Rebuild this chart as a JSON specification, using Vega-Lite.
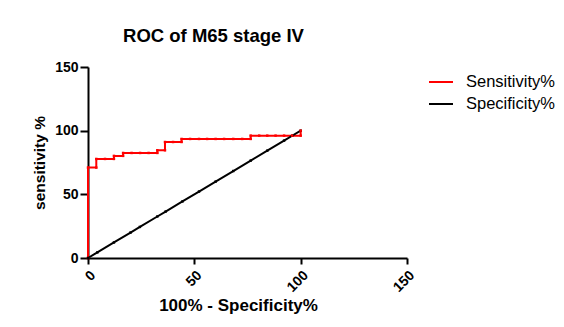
{
  "$schema": "https://vega.github.io/schema/vega-lite/v6.json",
  "width": 319,
  "height": 191,
  "autosize": {"type": "none"},
  "padding": {"left": 88, "top": 67, "right": 157, "bottom": 69},
  "background": "white",
  "title": {
    "text": "ROC of M65 stage IV",
    "font": "Liberation Sans",
    "fontSize": 18.5,
    "fontWeight": "bold",
    "color": "black",
    "anchor": "middle",
    "dx": -34,
    "offset": 15
  },
  "data": {
    "values": [
      {"series": "Sensitivity%", "o": 1, "x": 0, "y": 0},
      {"series": "Sensitivity%", "o": 2, "x": 0, "y": 71},
      {"series": "Sensitivity%", "o": 3, "x": 3.9, "y": 71},
      {"series": "Sensitivity%", "o": 4, "x": 3.9, "y": 77.8},
      {"series": "Sensitivity%", "o": 5, "x": 8, "y": 77.8},
      {"series": "Sensitivity%", "o": 6, "x": 12.2, "y": 77.8},
      {"series": "Sensitivity%", "o": 7, "x": 12.2, "y": 80.2},
      {"series": "Sensitivity%", "o": 8, "x": 16.5, "y": 80.2},
      {"series": "Sensitivity%", "o": 9, "x": 16.5, "y": 82.5},
      {"series": "Sensitivity%", "o": 10, "x": 20.5, "y": 82.5},
      {"series": "Sensitivity%", "o": 11, "x": 24.5, "y": 82.5},
      {"series": "Sensitivity%", "o": 12, "x": 28.5, "y": 82.5},
      {"series": "Sensitivity%", "o": 13, "x": 32.6, "y": 82.5},
      {"series": "Sensitivity%", "o": 14, "x": 32.6, "y": 84.6},
      {"series": "Sensitivity%", "o": 15, "x": 36.2, "y": 84.6},
      {"series": "Sensitivity%", "o": 16, "x": 36.2, "y": 91.1},
      {"series": "Sensitivity%", "o": 17, "x": 40, "y": 91.1},
      {"series": "Sensitivity%", "o": 18, "x": 44, "y": 91.1},
      {"series": "Sensitivity%", "o": 19, "x": 44, "y": 93.5},
      {"series": "Sensitivity%", "o": 20, "x": 48, "y": 93.5},
      {"series": "Sensitivity%", "o": 21, "x": 52.2, "y": 93.5},
      {"series": "Sensitivity%", "o": 22, "x": 56, "y": 93.5},
      {"series": "Sensitivity%", "o": 23, "x": 60, "y": 93.5},
      {"series": "Sensitivity%", "o": 24, "x": 64, "y": 93.5},
      {"series": "Sensitivity%", "o": 25, "x": 68.3, "y": 93.5},
      {"series": "Sensitivity%", "o": 26, "x": 72.5, "y": 93.5},
      {"series": "Sensitivity%", "o": 27, "x": 76.5, "y": 93.5},
      {"series": "Sensitivity%", "o": 28, "x": 76.5, "y": 96.1},
      {"series": "Sensitivity%", "o": 29, "x": 80.5, "y": 96.1},
      {"series": "Sensitivity%", "o": 30, "x": 84.3, "y": 96.1},
      {"series": "Sensitivity%", "o": 31, "x": 88.2, "y": 96.1},
      {"series": "Sensitivity%", "o": 32, "x": 92.2, "y": 96.1},
      {"series": "Sensitivity%", "o": 33, "x": 96, "y": 96.1},
      {"series": "Sensitivity%", "o": 34, "x": 100, "y": 96.1},
      {"series": "Sensitivity%", "o": 35, "x": 100, "y": 100},
      {"series": "Specificity%", "o": 1, "x": 0, "y": 0},
      {"series": "Specificity%", "o": 2, "x": 4.4, "y": 4.4},
      {"series": "Specificity%", "o": 3, "x": 12.2, "y": 12.2},
      {"series": "Specificity%", "o": 4, "x": 20, "y": 20},
      {"series": "Specificity%", "o": 5, "x": 24.4, "y": 24.4},
      {"series": "Specificity%", "o": 6, "x": 32.6, "y": 32.6},
      {"series": "Specificity%", "o": 7, "x": 36.5, "y": 36.5},
      {"series": "Specificity%", "o": 8, "x": 44.4, "y": 44.4},
      {"series": "Specificity%", "o": 9, "x": 52.2, "y": 52.2},
      {"series": "Specificity%", "o": 10, "x": 60, "y": 60},
      {"series": "Specificity%", "o": 11, "x": 68.3, "y": 68.3},
      {"series": "Specificity%", "o": 12, "x": 76.5, "y": 76.5},
      {"series": "Specificity%", "o": 13, "x": 84.3, "y": 84.3},
      {"series": "Specificity%", "o": 14, "x": 92.2, "y": 92.2},
      {"series": "Specificity%", "o": 15, "x": 96, "y": 96},
      {"series": "Specificity%", "o": 16, "x": 100, "y": 100}
    ]
  },
  "encoding": {
    "x": {
      "field": "x",
      "type": "quantitative",
      "scale": {"domain": [0, 150], "nice": false, "zero": true},
      "axis": {
        "values": [0, 50, 100, 150],
        "title": "100% - Specificity%",
        "titleFont": "Liberation Sans",
        "titleFontSize": 17,
        "titleFontWeight": "bold",
        "titleColor": "black",
        "titlePadding": 3,
        "titleX": 150,
        "labelFont": "Liberation Sans",
        "labelFontSize": 14,
        "labelFontWeight": "bold",
        "labelColor": "black",
        "labelAngle": -45,
        "labelAlign": "right",
        "labelBaseline": "top",
        "labelPadding": 4,
        "grid": false,
        "domainColor": "black",
        "domainWidth": 2,
        "tickColor": "black",
        "tickWidth": 2,
        "tickSize": 6
      }
    },
    "y": {
      "field": "y",
      "type": "quantitative",
      "scale": {"domain": [0, 150], "nice": false},
      "axis": {
        "values": [0, 50, 100, 150],
        "title": "sensitivity %",
        "titleFont": "Liberation Sans",
        "titleFontSize": 15.5,
        "titleFontWeight": "bold",
        "titleColor": "black",
        "titlePadding": 7,
        "labelFont": "Liberation Sans",
        "labelFontSize": 14,
        "labelFontWeight": "bold",
        "labelColor": "black",
        "labelPadding": 2,
        "grid": false,
        "domainColor": "black",
        "domainWidth": 2,
        "tickColor": "black",
        "tickWidth": 2,
        "tickSize": 8
      }
    },
    "color": {
      "field": "series",
      "type": "nominal",
      "scale": {"domain": ["Sensitivity%", "Specificity%"], "range": ["#ff0000", "#000000"]},
      "legend": {
        "title": null,
        "orient": "none",
        "legendX": 340,
        "legendY": 2,
        "symbolType": "stroke",
        "symbolStrokeWidth": 2,
        "symbolSize": 576,
        "labelFont": "Liberation Sans",
        "labelFontSize": 16.5,
        "labelColor": "black",
        "rowPadding": -2,
        "labelOffset": 12
      }
    },
    "order": {"field": "o", "type": "quantitative"}
  },
  "layer": [
    {"mark": {"type": "line", "strokeWidth": 2, "interpolate": "linear"}},
    {"mark": {"type": "point", "shape": "square", "filled": true, "size": 6, "opacity": 1}}
  ],
  "config": {"view": {"stroke": null}}
}
